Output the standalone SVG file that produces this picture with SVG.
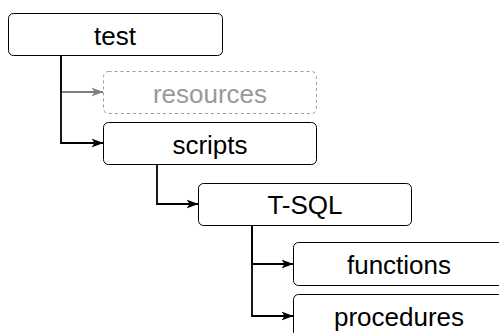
<svg xmlns="http://www.w3.org/2000/svg" width="499" height="333" viewBox="0 0 499 333">
  <style>
    .box { fill: #ffffff; stroke: #000000; stroke-width: 1; }
    .ghost { fill: #ffffff; stroke: #999999; stroke-width: 1; stroke-dasharray: 3 3; }
    .label { font-family: "Liberation Sans", Arial, Helvetica, sans-serif; font-size: 26px; text-anchor: middle; fill: #000000; }
    .ghost-label { fill: #999999; }
    .edge { fill: none; stroke: #000000; stroke-width: 1.8; }
    .ghost-edge { fill: none; stroke: #808080; stroke-width: 1.8; }
  </style>
  <defs>
    <!-- filled arrowhead with a shallow notch, drawn in user units -->
    <marker id="arrow" viewBox="0 0 12 12" refX="11.5" refY="6" markerWidth="12" markerHeight="12" orient="auto" markerUnits="userSpaceOnUse">
      <path d="M0,1.5 L12,6 L0,10.5 L3,6 Z" fill="#000000"/>
    </marker>
    <marker id="arrow-grey" viewBox="0 0 12 12" refX="11.5" refY="6" markerWidth="12" markerHeight="12" orient="auto" markerUnits="userSpaceOnUse">
      <path d="M0,1.5 L12,6 L0,10.5 L3,6 Z" fill="#808080"/>
    </marker>
  </defs>

  <g id="connectors">
    <path class="ghost-edge" d="M61,55 V92 H103" marker-end="url(#arrow-grey)"/>
    <path class="edge" d="M61,55 V143 H103" marker-end="url(#arrow)"/>
    <path class="edge" d="M157,164 V204 H198" marker-end="url(#arrow)"/>
    <path class="edge" d="M252,225 V264 H293" marker-end="url(#arrow)"/>
    <path class="edge" d="M252,225 V316 H293" marker-end="url(#arrow)"/>
  </g>

  <g id="test">
    <rect class="box" x="8.5" y="13.5" width="214" height="42" rx="5"/>
    <text class="label" x="115" y="44.5">test</text>
  </g>

  <g id="resources">
    <rect class="ghost" x="103.5" y="71.5" width="213" height="42" rx="5"/>
    <text class="label ghost-label" x="210" y="103">resources</text>
  </g>

  <g id="scripts">
    <rect class="box" x="103.5" y="122.5" width="213" height="42" rx="5"/>
    <text class="label" x="210" y="153.5">scripts</text>
  </g>

  <g id="t-sql">
    <rect class="box" x="198.5" y="183.5" width="213" height="42" rx="5"/>
    <text class="label" x="305" y="213.5">T-SQL</text>
  </g>

  <g id="functions">
    <rect class="box" x="293.5" y="242.5" width="213" height="43" rx="5"/>
    <text class="label" x="399" y="273.5">functions</text>
  </g>

  <g id="procedures">
    <rect class="box" x="293.5" y="294.5" width="213" height="43" rx="5"/>
    <text class="label" x="399" y="325.5">procedures</text>
  </g>
</svg>
